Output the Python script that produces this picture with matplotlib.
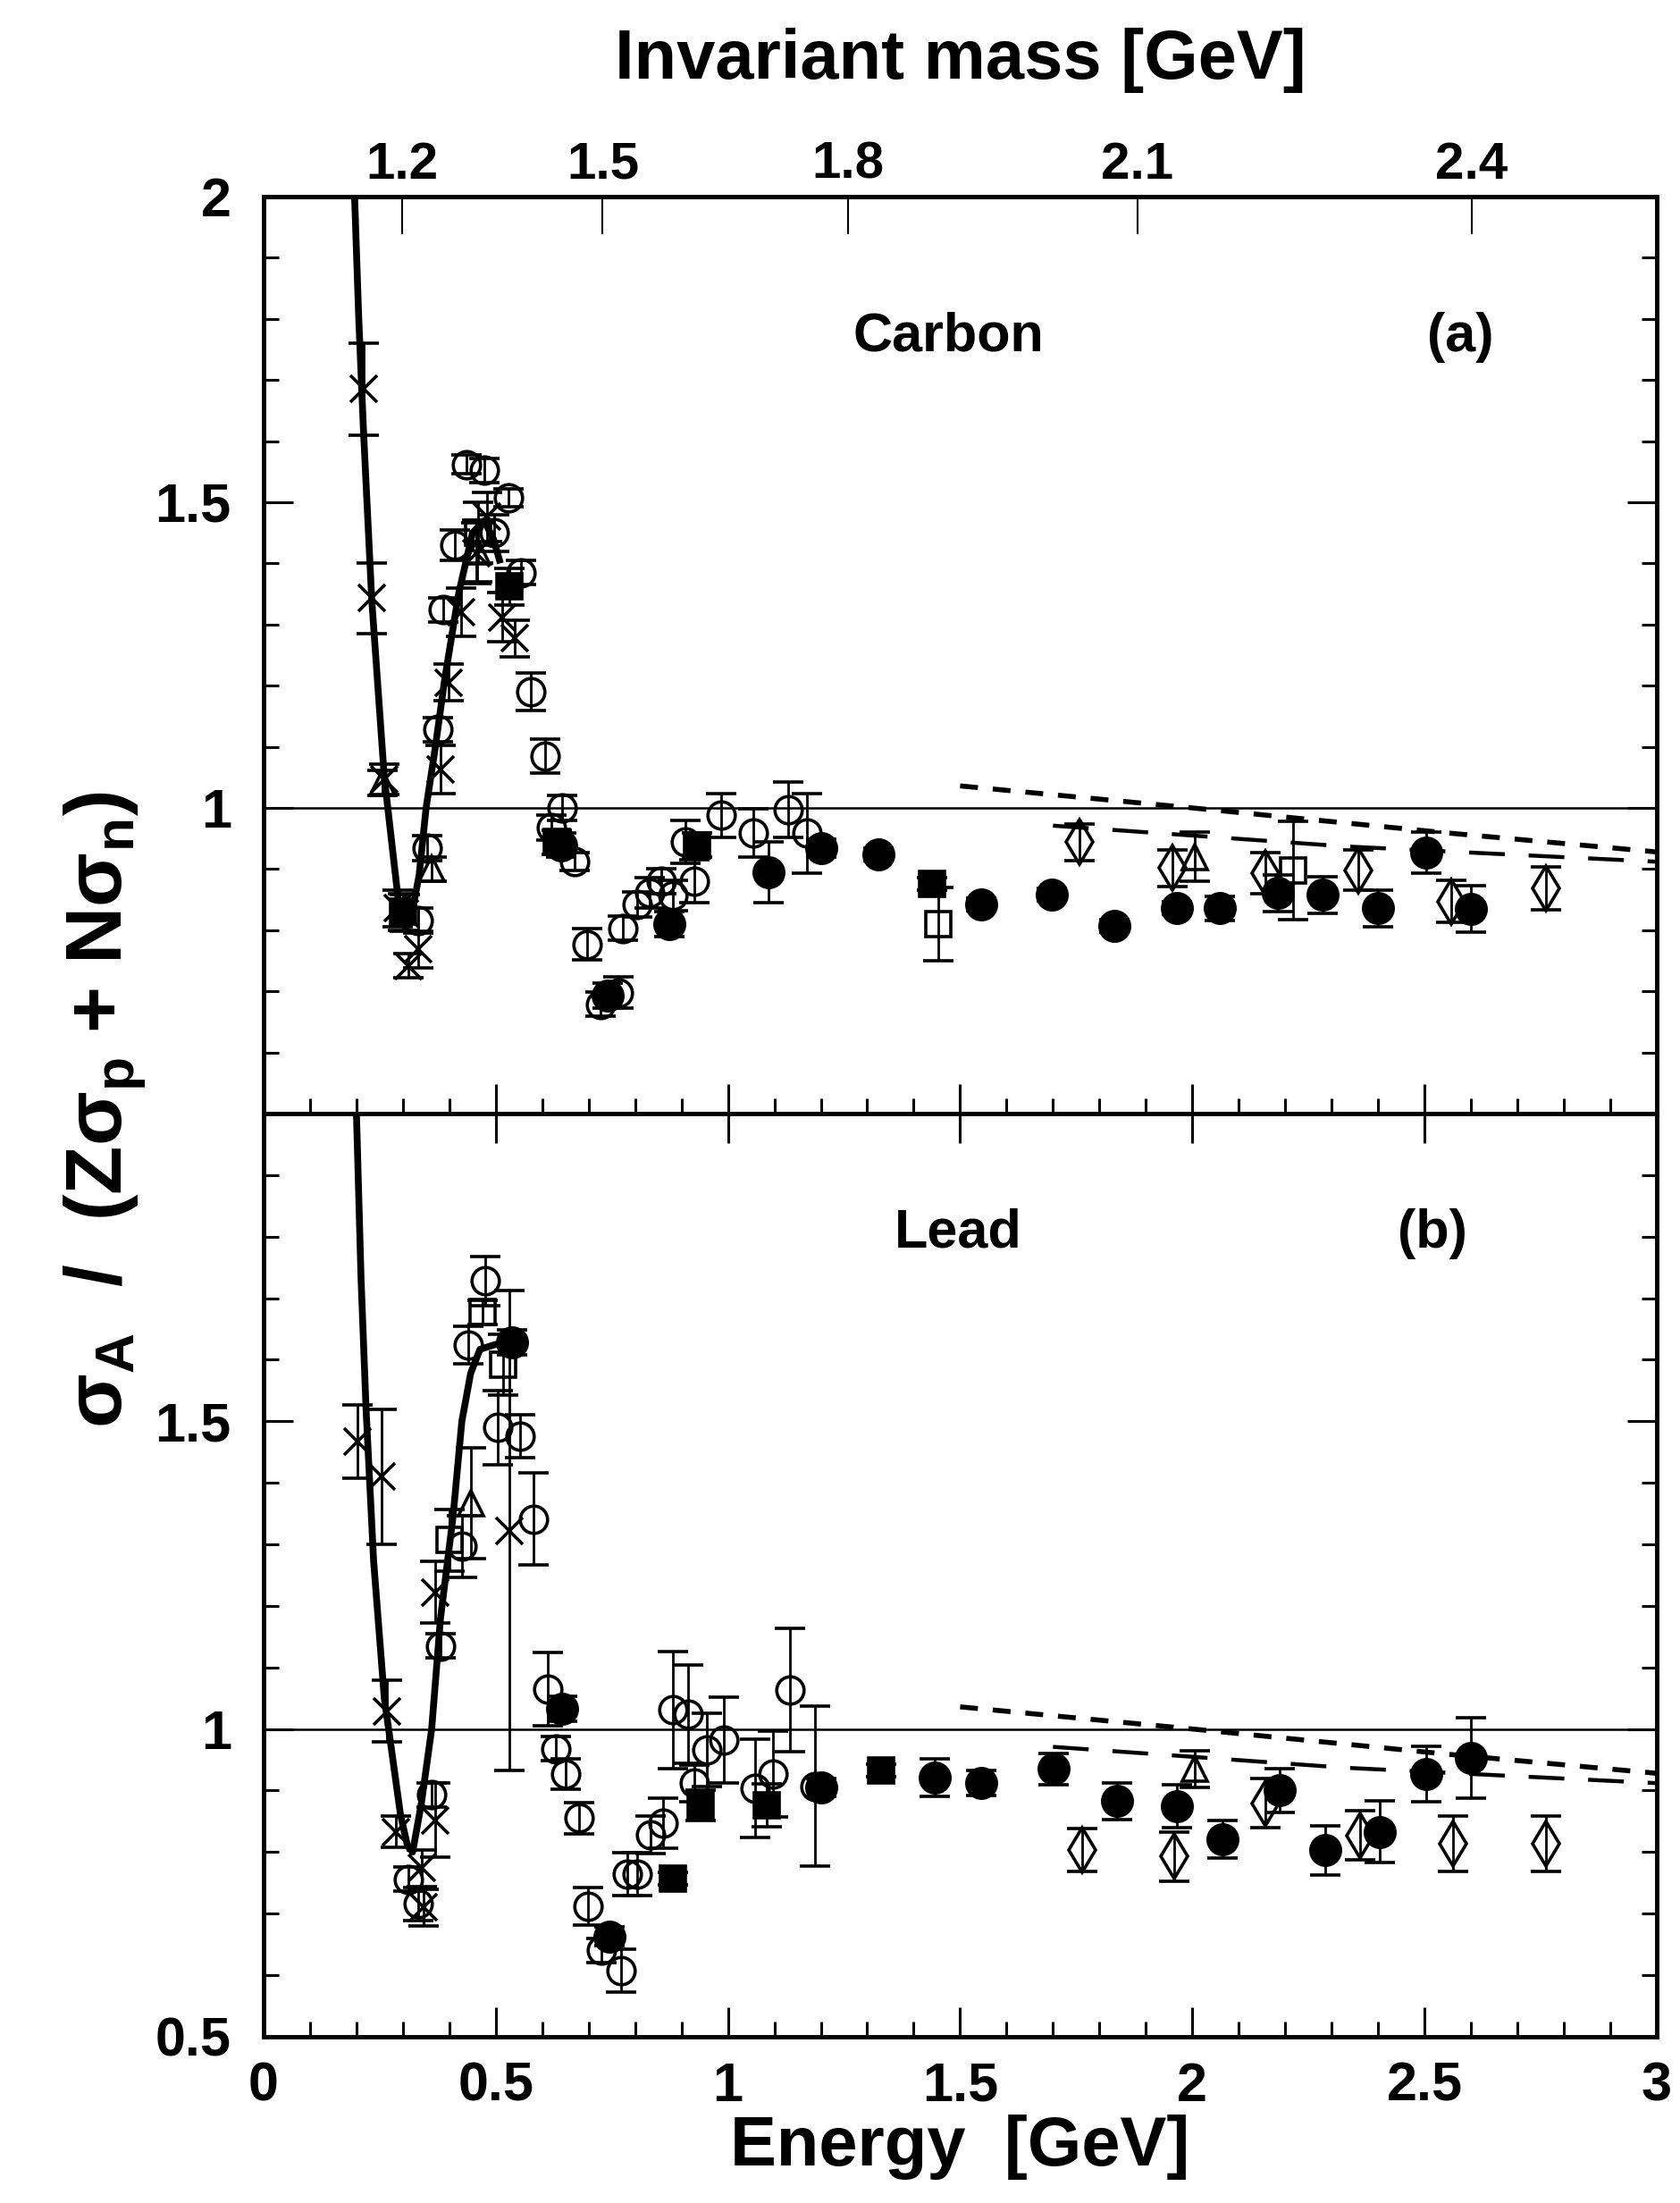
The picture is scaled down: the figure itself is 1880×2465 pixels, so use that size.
import numpy as np
import matplotlib
matplotlib.use("Agg")
import matplotlib.pyplot as plt
from matplotlib.ticker import MultipleLocator, FixedLocator, NullLocator

plt.rcParams['font.family'] = ['Liberation Sans', 'DejaVu Sans']
plt.rcParams['font.weight'] = 'bold'
plt.rcParams['mathtext.fontset'] = 'custom'
plt.rcParams['mathtext.rm'] = 'Liberation Sans:bold'
plt.rcParams['mathtext.bf'] = 'Liberation Sans:bold'
plt.rcParams['mathtext.it'] = 'Liberation Sans:bold'

M_N = 0.938  # nucleon mass [GeV]

# ---------------- Carbon (a) ----------------
c_cross_E = [0.215, 0.233, 0.26, 0.289, 0.305, 0.312, 0.333, 0.381, 0.399, 0.425, 0.458, 0.481, 0.514, 0.54]
c_cross_v = [1.685, 1.343, 1.047, 0.836, 0.828, 0.742, 0.769, 1.063, 1.205, 1.32, 1.417, 1.476, 1.312, 1.277]
c_cross_e = [0.075, 0.058, 0.025, 0.03, 0.03, 0.02, 0.03, 0.04, 0.03, 0.04, 0.05, 0.04, 0.04, 0.03]

c_ocirc_E = [0.333, 0.352, 0.375, 0.387, 0.412, 0.437, 0.475, 0.497, 0.527, 0.554, 0.575, 0.606,
             0.62, 0.643, 0.67, 0.696, 0.725, 0.764, 0.773, 0.805, 0.831, 0.857, 0.882, 0.908,
             0.927, 0.985, 1.055, 1.13, 1.17]
c_ocirc_v = [0.816, 0.934, 1.128, 1.324, 1.43, 1.562, 1.552, 1.45, 1.507, 1.385, 1.19, 1.085,
             0.968, 1.0, 0.912, 0.777, 0.679, 0.698, 0.803, 0.842, 0.861, 0.88, 0.857, 0.944,
             0.88, 0.988, 0.959, 0.997, 0.959]
c_ocirc_e = [0.02, 0.02, 0.02, 0.02, 0.025, 0.015, 0.02, 0.03, 0.015, 0.02, 0.03, 0.028,
             0.02, 0.02, 0.015, 0.026, 0.02, 0.026, 0.02, 0.02, 0.025, 0.02, 0.025, 0.035,
             0.035, 0.036, 0.04, 0.045, 0.065]

c_fcirc_E = [0.64, 0.741, 0.874, 1.087, 1.2, 1.324, 1.546, 1.697, 1.832, 1.967, 2.059, 2.184,
             2.28, 2.4, 2.503, 2.6]
c_fcirc_v = [0.939, 0.693, 0.81, 0.895, 0.934, 0.924, 0.842, 0.858, 0.807, 0.836, 0.836, 0.861,
             0.858, 0.836, 0.927, 0.835]
c_fcirc_e = [0.02, 0.02, 0.02, 0.05, 0.015, 0.01, 0.01, 0.01, 0.01, 0.01, 0.02, 0.03,
             0.03, 0.03, 0.033, 0.038]

c_fsq_E = [0.3, 0.529, 0.631, 0.933, 1.44]
c_fsq_v = [0.83, 1.362, 0.944, 0.939, 0.876]
c_fsq_e = [0.03, 0.03, 0.02, 0.02, 0.01]

c_osq_E = [0.462, 1.453, 2.217]
c_osq_v = [1.45, 0.81, 0.898]
c_osq_e = [0.05, 0.06, 0.08]

c_odia_E = [1.757, 1.957, 2.157, 2.357, 2.557, 2.761]
c_odia_v = [0.944, 0.902, 0.893, 0.898, 0.847, 0.869]
c_odia_e = [0.03, 0.03, 0.034, 0.033, 0.034, 0.035]

c_otri_E = [0.256, 0.362, 0.46, 2.005]
c_otri_v = [1.041, 0.9, 1.42, 0.92]
c_otri_e = [0.02, 0.02, 0.05, 0.04]

c_curve_E = [0.196, 0.205, 0.215, 0.233, 0.26, 0.29, 0.305, 0.315, 0.335, 0.35, 0.37, 0.39,
             0.42, 0.45, 0.475, 0.495, 0.51]
c_curve_v = [2.0, 1.8, 1.62, 1.34, 1.05, 0.85, 0.81, 0.81, 0.89, 1.0, 1.1, 1.21,
             1.35, 1.45, 1.47, 1.44, 1.40]

# ---------------- Lead (b) ----------------
l_cross_E = [0.202, 0.254, 0.266, 0.285, 0.34, 0.345, 0.369, 0.369, 0.529]
l_cross_v = [1.467, 1.41, 1.029, 0.833, 0.774, 0.71, 0.852, 1.222, 1.322]
l_cross_e = [0.06, 0.11, 0.05, 0.025, 0.03, 0.03, 0.06, 0.05, 0.39]

l_ocirc_E = [0.311, 0.333, 0.362, 0.381, 0.427, 0.44, 0.478, 0.504, 0.552, 0.581, 0.612, 0.629,
             0.65, 0.679, 0.699, 0.728, 0.769, 0.783, 0.805, 0.833, 0.86, 0.882, 0.914, 0.927,
             0.954, 0.991, 1.058, 1.097, 1.133, 1.187]
l_ocirc_v = [0.756, 0.716, 0.893, 1.135, 1.297, 1.624, 1.728, 1.49, 1.476, 1.341, 1.065, 0.968,
             0.927, 0.855, 0.712, 0.64, 0.607, 0.764, 0.764, 0.828, 0.847, 1.031, 1.024, 0.912,
             0.966, 0.982, 0.903, 0.927, 1.063, 0.907]
l_ocirc_e = [0.02, 0.027, 0.02, 0.02, 0.05, 0.03, 0.04, 0.06, 0.035, 0.075, 0.06, 0.02,
             0.025, 0.025, 0.03, 0.02, 0.035, 0.035, 0.035, 0.03, 0.04, 0.095, 0.08, 0.03,
             0.06, 0.07, 0.08, 0.07, 0.1, 0.13]

l_fcirc_E = [0.535, 0.642, 0.744, 1.2, 1.445, 1.546, 1.701, 1.838, 1.967, 2.065, 2.188, 2.286,
             2.403, 2.504, 2.6]
l_fcirc_v = [1.628, 1.033, 0.663, 0.905, 0.921, 0.912, 0.935, 0.883, 0.875, 0.821, 0.9, 0.803,
             0.833, 0.927, 0.953]
l_fcirc_e = [0.02, 0.02, 0.015, 0.015, 0.03, 0.02, 0.025, 0.03, 0.035, 0.03, 0.035, 0.04,
             0.05, 0.045, 0.065]

l_fsq_E = [0.882, 0.941, 1.083, 1.33]
l_fsq_v = [0.757, 0.876, 0.876, 0.933]
l_fsq_e = [0.01, 0.025, 0.035, 0.01]

l_osq_E = [0.4, 0.471, 0.516]
l_osq_v = [1.307, 1.677, 1.592]
l_osq_e = [0.05, 0.02, 0.05]

l_odia_E = [1.763, 1.961, 2.157, 2.361, 2.561, 2.761]
l_odia_v = [0.803, 0.793, 0.879, 0.827, 0.813, 0.813]
l_odia_e = [0.035, 0.04, 0.04, 0.04, 0.045, 0.045]

l_otri_E = [0.446, 2.005]
l_otri_v = [1.367, 0.935]
l_otri_e = [0.09, 0.03]

l_curve_E = [0.2, 0.21, 0.221, 0.237, 0.26, 0.273, 0.295, 0.31, 0.321, 0.34, 0.362, 0.381,
             0.408, 0.427, 0.446, 0.466, 0.5, 0.54]
l_curve_v = [2.0, 1.73, 1.515, 1.273, 1.05, 0.98, 0.86, 0.81, 0.80, 0.88, 1.0, 1.18,
             1.345, 1.5, 1.578, 1.617, 1.625, 1.628]

# model curves at high energy (same in both panels)
short_E = [1.5, 2.0, 2.55, 3.0]
short_v = [1.036, 1.0, 0.959, 0.928]
long_E = [1.7, 2.33, 3.0]
long_v = [0.971, 0.937, 0.912]

w_ticks = [1.2, 1.5, 1.8, 2.1, 2.4]
e_ticks = [0, 0.5, 1, 1.5, 2, 2.5, 3]


def e2w(e):
    return np.sqrt(np.clip(M_N**2 + 2*M_N*np.asarray(e, dtype=float), 1e-6, None))


def w2e(w):
    w = np.asarray(w, dtype=float)
    return (w**2 - M_N**2) / (2*M_N)


def points(ax, E, v, err, marker, filled, ms):
    ax.errorbar(E, v, yerr=err, fmt=marker, ms=ms,
                mfc='black' if filled else 'none', mec='black', mew=2.6,
                ecolor='black', elinewidth=2.0, capsize=12, capthick=3.0, zorder=4)


def panel(ax, d, curve_E, curve_v):
    ax.set_xlim(0, 3)
    ax.set_ylim(0.5, 2)
    ax.axhline(1.0, color='black', lw=1.8, zorder=2)
    ax.plot(curve_E, curve_v, color='black', lw=5.5, solid_capstyle='butt', zorder=3)
    ax.plot(short_E, short_v, color='black', lw=4.0, dashes=(3.6, 3.0), zorder=3)
    ax.plot(long_E, long_v, color='black', lw=3.2, dashes=(9, 6), zorder=3)
    points(ax, d['cross'][0], d['cross'][1], d['cross'][2], 'x', False, 21)
    points(ax, d['ocirc'][0], d['ocirc'][1], d['ocirc'][2], 'o', False, 22)
    points(ax, d['fcirc'][0], d['fcirc'][1], d['fcirc'][2], 'o', True, 24)
    points(ax, d['fsq'][0], d['fsq'][1], d['fsq'][2], 's', True, 20)
    points(ax, d['osq'][0], d['osq'][1], d['osq'][2], 's', False, 20)
    points(ax, d['odia'][0], d['odia'][1], d['odia'][2], 'd', False, 25)
    points(ax, d['otri'][0], d['otri'][1], d['otri'][2], '^', False, 20)

    for s in ax.spines.values():
        s.set_linewidth(3.5)
    ax.xaxis.set_major_locator(MultipleLocator(0.5))
    ax.xaxis.set_minor_locator(MultipleLocator(0.1))
    ax.yaxis.set_major_locator(FixedLocator([0.5, 1.0, 1.5, 2.0]))
    ax.yaxis.set_minor_locator(MultipleLocator(0.1))
    ax.tick_params(which='both', direction='in', left=True, right=True, width=2.2)
    ax.tick_params(which='major', length=24)
    ax.tick_params(which='minor', length=12)
    ax.tick_params(axis='y', labelsize=44, pad=26)
    ax.tick_params(axis='x', labelsize=44, pad=20)


fig = plt.figure(figsize=(18.81, 24.65), dpi=100)
ax_c = fig.add_axes([0.1568, 0.4945, 0.8288, 0.4163])
ax_l = fig.add_axes([0.1568, 0.0755, 0.8288, 0.4190])

carbon = {'cross': (c_cross_E, c_cross_v, c_cross_e), 'ocirc': (c_ocirc_E, c_ocirc_v, c_ocirc_e),
          'fcirc': (c_fcirc_E, c_fcirc_v, c_fcirc_e), 'fsq': (c_fsq_E, c_fsq_v, c_fsq_e),
          'osq': (c_osq_E, c_osq_v, c_osq_e), 'odia': (c_odia_E, c_odia_v, c_odia_e),
          'otri': (c_otri_E, c_otri_v, c_otri_e)}
lead = {'cross': (l_cross_E, l_cross_v, l_cross_e), 'ocirc': (l_ocirc_E, l_ocirc_v, l_ocirc_e),
        'fcirc': (l_fcirc_E, l_fcirc_v, l_fcirc_e), 'fsq': (l_fsq_E, l_fsq_v, l_fsq_e),
        'osq': (l_osq_E, l_osq_v, l_osq_e), 'odia': (l_odia_E, l_odia_v, l_odia_e),
        'otri': (l_otri_E, l_otri_v, l_otri_e)}

panel(ax_c, carbon, c_curve_E, c_curve_v)
panel(ax_l, lead, l_curve_E, l_curve_v)

# top panel: energy ticks only on the bottom, invariant mass on top
ax_c.tick_params(top=False, bottom=True, labelbottom=False)
ax_c.set_yticklabels(['', '1', '1.5', '2'])
ax_l.tick_params(top=True, bottom=True)
ax_l.set_yticklabels(['0.5', '1', '1.5', ''])
ax_l.set_xticks(e_ticks)
ax_l.set_xticklabels(['0', '0.5', '1', '1.5', '2', '2.5', '3'])
ax_l.set_xlabel('Energy  [GeV]', fontsize=56, fontweight='bold', labelpad=2)

sec = ax_c.secondary_xaxis('top', functions=(e2w, w2e))
sec.set_xticks(w_ticks)
sec.set_xticklabels(['1.2', '1.5', '1.8', '2.1', '2.4'])
sec.xaxis.set_minor_locator(NullLocator())
sec.tick_params(direction='in', length=30, width=1.5, labelsize=42, pad=6)
sec.spines['top'].set_linewidth(3.5)
sec.set_xlabel('Invariant mass [GeV]', fontsize=56, fontweight='bold', labelpad=50)

ax_c.text(1.474, 1.77, 'Carbon', fontsize=44, fontweight='bold', ha='center', va='center')
ax_c.text(2.577, 1.77, '(a)', fontsize=44, fontweight='bold', ha='center', va='center')
ax_l.text(1.495, 1.805, 'Lead', fontsize=44, fontweight='bold', ha='center', va='center')
ax_l.text(2.517, 1.805, '(b)', fontsize=44, fontweight='bold', ha='center', va='center')

fig.text(0.062, 0.4965, r'σ$_\mathbf{A}$  /  (Zσ$_\mathbf{p}$ + Nσ$_\mathbf{n}$)',
         rotation=90, fontsize=64, fontweight='bold', ha='center', va='center')

fig.savefig('out.png', dpi=100)
